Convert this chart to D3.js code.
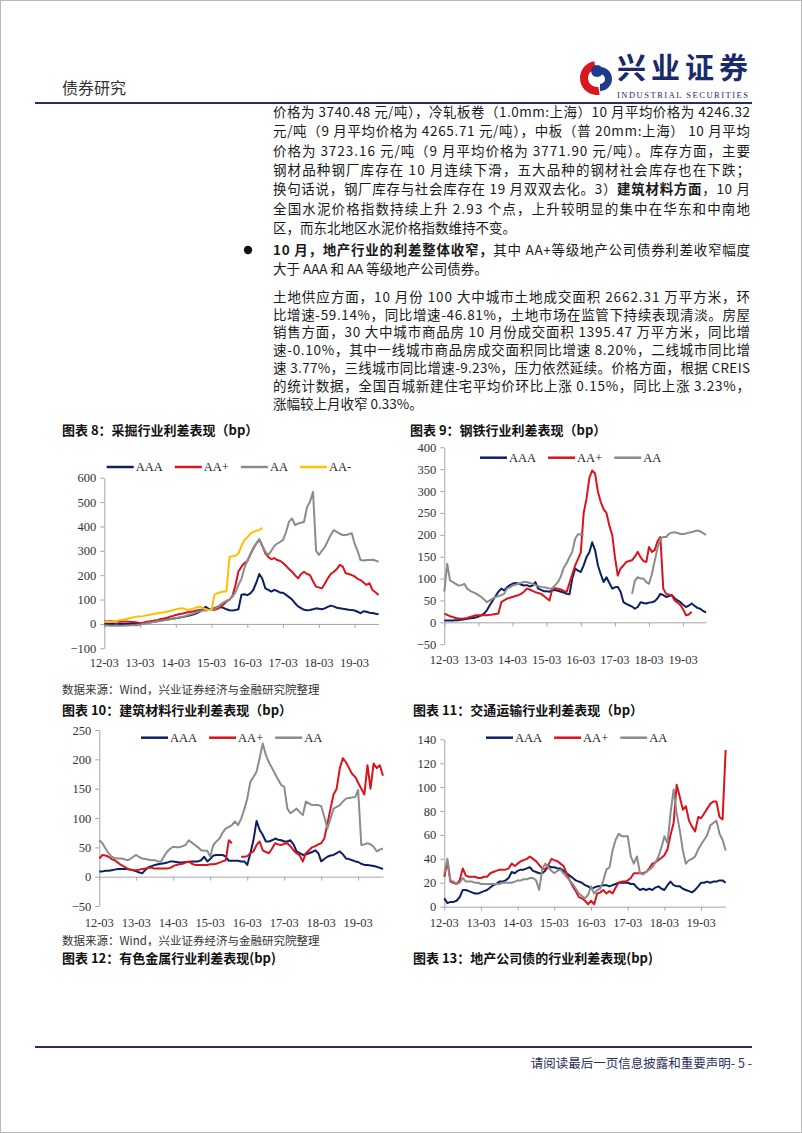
<!DOCTYPE html>
<html>
<head>
<meta charset="utf-8">
<script src="https://cdn.jsdelivr.net/npm/d3@7"></script>
<style>
  body { margin: 0; background: #fff; }
  svg text { font-family: "Noto Sans CJK SC", sans-serif; }
</style>
</head>
<body>
<script>
// monthly points 2012-03 .. 2019-11
var months = d3.timeMonth.range(new Date(2012, 2, 1), new Date(2019, 11, 1));
var xLabels = ["12-03", "13-03", "14-03", "15-03", "16-03", "17-03", "18-03", "19-03"];
var seriesNames = ["AAA", "AA+", "AA", "AA-"];

// 图表 8 采掘
var miningAAA = [0,0,1,0,-1,0,1,0,0,1,0,1, 2,3,5,6,8,10,12,14,16,18,20,22,
  23,25,28,30,33,36,40,44,50,60,70,62, 58,65,70,68,66,60,56,55,57,60,120,122,
  118,125,140,170,205,185,146,140,133,140,135,128, 128,119,110,100,85,72,65,58,56,57,60,64,
  62,60,64,70,75,72,66,64,62,60,58,57, 55,50,44,52,50,46,45,42,40];
var miningAAplus = [10,10,11,10,10,9,10,10,9,8,8,6, 4,5,8,10,12,14,16,20,22,25,30,33,
  37,40,42,45,48,50,52,55,57,58,56,57, 57,58,62,70,80,92,100,115,160,215,235,250,
  258,285,310,330,347,320,290,275,265,270,262,258, 250,238,225,214,200,187,205,214,205,200,175,153,
  150,146,165,187,205,214,225,242,235,208,205,200, 195,185,180,170,160,167,139,130,119];
var miningAA = [-5,-6,-7,-7,-6,-7,-7,-6,-6,-5,-5,-5, -3,0,2,5,7,9,11,13,15,17,19,21,
  23,26,29,32,36,40,44,48,52,54,56,57, 57,62,70,80,88,95,100,112,130,160,185,230,
  260,285,310,330,347,320,296,283,300,320,330,337, 345,378,420,433,406,412,415,419,480,501,542,300,
  283,300,315,340,365,385,378,370,365,365,368,372, 330,300,262,260,262,262,263,260,255];
var miningAAminus = [7,8,9,10,12,15,17,19,22,25,28,30, 30,32,35,37,40,42,44,46,48,50,53,56,
  60,62,64,62,57,60,64,68,71,66,60,57, 57,120,126,130,133,133,276,278,280,290,320,345,
  355,370,378,382,385,395];

// 图表 9 钢铁
var steelAAA = [4,4,4,4,5,5,6,7,8,9,10,11, 13,16,20,28,39,50,60,70,77,73,80,85,
  88,90,89,86,84,85,82,84,92,77,74,71, 71,70,73,74,72,70,68,65,64,100,123,118,
  115,130,149,160,183,165,130,110,92,103,90,77, 80,81,70,46,42,39,36,31,35,46,44,43,
  45,46,48,55,65,62,58,60,62,55,50,46, 40,35,38,43,38,33,31,26,22];
var steelAAplus = [20,17,14,12,10,9,8,9,10,12,14,16, 16,16,16,16,17,18,19,20,46,50,54,56,
  58,60,62,65,70,77,75,72,69,67,65,60, 55,50,77,78,77,75,72,69,90,110,130,145,
  160,250,282,330,347,340,298,275,258,250,221,199, 150,107,123,130,138,140,142,150,161,149,140,138,
  172,161,165,185,195,77,65,63,62,50,45,39, 30,16,18,24];
var steelAA = [70,134,96,92,88,84,85,88,77,72,69,66, 62,58,52,46,50,54,58,60,62,65,77,80,
  84,86,88,90,92,92,90,88,85,83,81,80, 79,77,78,85,92,105,125,135,149,161,191,202,
  200,200, null,null,null,null,null,null,null,null,null,null,null,null,null,null,null,null,
  65,95,103,100,100,92,88,110,140,170,191,195,
  195,202,205,206,204,202,202,203,205,206,208,210,208,204,200];

// 图表 10 建筑材料
var buildAAA = [9,9,10,10,11,12,13,13,13,13,12,11, 9,7,6,12,16,18,20,21,22,23,24,26,
  26,25,24,24,25,25,26,26,26,28,34,26, 30,36,37,37,37,34,27,27,27,27,26,26,
  20,40,62,95,80,71,60,60,62,65,63,62, 60,60,62,55,43,40,37,38,40,42,45,40,
  26,30,34,36,37,40,43,38,31,30,28,26, 25,22,20,20,19,18,17,15,13];
var buildAAplus = [31,37,36,34,30,28,24,20,17,14,12,11, 11,12,13,14,15,15,14,14,14,14,14,15,
  18,20,21,22,24,26,22,20,20,20,20,20, 21,21,22,24,26,28,62,57,null,null,34,34,
  35,40,43,54,60,45,42,40,48,57,55,54, 56,57,52,45,40,36,26,40,45,50,52,55,
  57,65,90,116,140,150,185,202,195,185,175,170, 160,150,140,190,150,193,185,190,172];
var buildAA = [62,57,48,40,34,32,31,31,30,28,30,34, 37,33,31,30,29,28,28,26,26,35,43,48,
  51,50,50,52,54,62,58,54,50,45,44,44, 34,54,60,65,75,82,85,88,94,88,99,115,
  133,162,170,179,202,227,207,195,185,175,165,156, 153,116,108,112,116,110,105,128,125,122,122,122,
  120,102,82,99,116,119,122,128,133,134,135,136, 148,54,55,57,55,51,43,46,48];

// 图表 11 交通运输
var transAAA = [7,3,4,4,5,8,14,14,13,12,11,11, 12,13,14,16,18,19,21,21,22,24,29,28,
  30,31,31,32,33,30,29,28,28,30,34,33, 33,32,32,30,28,26,24,22,21,20,18,17,
  15,16,17,17,18,18,17,18,19,20,20,20, 20,19,19,16,14,15,14,15,14,16,17,15,
  14,18,21,18,17,17,15,14,13,12,14,17, 20,20,21,20,21,21,22,22,20];
var transAAplus = [25,38,21,20,19,22,32,26,25,25,25,24, 24,25,25,28,29,30,31,31,31,32,36,34,
  36,38,39,40,42,40,38,35,32,31,35,40, 39,38,36,34,28,22,17,13,8,7,5,2,
  5,2,11,12,14,11,13,11,16,20,21,21, 22,24,28,28,28,28,29,32,36,37,39,41,
  43,48,60,70,102,92,81,84,72,67,63,75, 74,78,82,86,88,88,75,73,131];
var transAA = [28,40,22,21,19,20,24,21,21,21,20,20, 19,19,19,19,19,19,19,20,20,20,20,21,
  22,22,23,23,24,24,22,14,31,36,33,30, 28,30,31,28,25,22,19,15,11,9,7,10,
  17,11,14,15,22,31,33,47,56,61,59,59, 59,42,36,42,28,27,29,31,33,37,42,50,
  59,53,78,98,78,64,47,36,39,40,42,48, 52,56,60,68,70,72,61,56,47];

var colors = ["#0d1f63", "#d9141c", "#8c8c8c", "#ffc000"];

var width = 802, height = 1133;
var svg = d3.select("body").append("svg")
    .attr("width", width)
    .attr("height", height);

svg.append("rect")
    .attr("x", 0.5).attr("y", 0.5)
    .attr("width", width - 1).attr("height", height - 1)
    .attr("fill", "none").attr("stroke", "#b8b8b8");

// header
svg.append("text")
    .attr("x", 62).attr("y", 88).attr("dy", "0.35em")
    .attr("font-size", 16).attr("fill", "#333")
    .text("债券研究");

var logo = svg.append("g").attr("transform", "translate(597,78)");
var arc = d3.arc();
logo.append("path")
    .attr("d", arc({innerRadius: 9, outerRadius: 17, startAngle: Math.PI * 0.95, endAngle: Math.PI * 1.95}))
    .attr("fill", "#d7191f");
logo.append("path")
    .attr("d", arc({innerRadius: 5, outerRadius: 12, startAngle: -0.2, endAngle: Math.PI * 1.0}))
    .attr("transform", "translate(3,1)")
    .attr("fill", "#1f3a8a");
logo.append("circle").attr("cx", 0).attr("cy", -7).attr("r", 6).attr("fill", "#1f3a8a");

svg.append("text")
    .attr("x", 617).attr("y", 69).attr("dy", "0.35em")
    .attr("font-size", 29).attr("font-weight", 700).attr("fill", "#1b2a6b")
    .attr("textLength", 131).attr("lengthAdjust", "spacing")
    .text("兴业证券");
svg.append("text")
    .attr("x", 617).attr("y", 95).attr("dy", "0.35em")
    .attr("font-size", 8.5).attr("fill", "#1b2a6b")
    .style("font-family", "Liberation Serif, serif")
    .attr("textLength", 131).attr("lengthAdjust", "spacing")
    .text("INDUSTRIAL SECURITIES");

svg.append("line")
    .attr("x1", 35).attr("x2", 752).attr("y1", 103).attr("y2", 103)
    .attr("stroke", "#2b2d5c").attr("stroke-width", 2);

// body text
var textX = 273, textW = 477;

var blockA = [
  [["价格为 3740.48 元/吨），冷轧板卷（1.0mm:上海）10 月平均价格为 4246.32"]],
  [["元/吨（9 月平均价格为 4265.71 元/吨），中板（普 20mm:上海） 10 月平均"]],
  [["价格为 3723.16 元/吨（9 月平均价格为 3771.90 元/吨）。库存方面，主要"]],
  [["钢材品种钢厂库存在 10 月连续下滑，五大品种的钢材社会库存也在下跌；"]],
  [["换句话说，钢厂库存与社会库存在 19 月双双去化。3）"], ["建筑材料方面", 1], ["，10 月"]],
  [["全国水泥价格指数持续上升 2.93 个点，上升较明显的集中在华东和中南地"]],
  [["区，而东北地区水泥价格指数维持不变。"]]
];
var blockB = [
  [["10 月，地产行业的利差整体收窄，", 1], ["其中 AA+等级地产公司债券利差收窄幅度"]],
  [["大于 AAA 和 AA 等级地产公司债券。"]]
];
var blockC = [
  [["土地供应方面，10 月份 100 大中城市土地成交面积 2662.31 万平方米，环"]],
  [["比增速-59.14%，同比增速-46.81%，土地市场在监管下持续表现清淡。房屋"]],
  [["销售方面，30 大中城市商品房 10 月份成交面积 1395.47 万平方米，同比增"]],
  [["速-0.10%，其中一线城市商品房成交面积同比增速 8.20%，二线城市同比增"]],
  [["速 3.77%，三线城市同比增速-9.23%，压力依然延续。价格方面，根据 CREIS"]],
  [["的统计数据，全国百城新建住宅平均价环比上涨 0.15%，同比上涨 3.23%，"]],
  [["涨幅较上月收窄 0.33%。"]]
];

function para(lines, y0, step) {
  lines.forEach(function(segs, i) {
    var t = svg.append("text")
        .attr("x", textX).attr("y", y0 + i * step).attr("dy", "0.35em")
        .attr("font-size", 13.5).attr("fill", "#1a1a1a");
    segs.forEach(function(s) {
      t.append("tspan").attr("font-weight", s[1] ? 700 : 400).text(s[0]);
    });
    if (i < lines.length - 1) t.attr("textLength", textW).attr("lengthAdjust", "spacing");
  });
}
para(blockA, 112, 19.4);
svg.append("circle").attr("cx", 248).attr("cy", 250).attr("r", 4.2).attr("fill", "#111");
para(blockB, 250, 19.4);
para(blockC, 297, 17.8);

// captions
function caption(txt, x, y, bold) {
  svg.append("text")
      .attr("x", x).attr("y", y).attr("dy", "0.35em")
      .attr("font-size", bold ? 13 : 11.5)
      .attr("font-weight", bold ? 700 : 400)
      .attr("fill", bold ? "#111" : "#333")
      .text(txt);
}
var srcText = "数据来源：Wind，兴业证券经济与金融研究院整理";
caption("图表 8：采掘行业利差表现（bp）", 62, 430, true);
caption("图表 9：钢铁行业利差表现（bp）", 410, 430, true);
caption(srcText, 62, 690, false);
caption("图表 10：建筑材料行业利差表现（bp）", 62, 710, true);
caption("图表 11：交通运输行业利差表现（bp）", 413, 710, true);
caption(srcText, 62, 941, false);
caption("图表 12：有色金属行业利差表现(bp)", 62, 958, true);
caption("图表 13：地产公司债的行业利差表现(bp)", 413, 958, true);

// charts
var parseLabel = d3.timeParse("%y-%m");
var yearTicks = xLabels.map(parseLabel);

function drawChart(c) {
  var g = svg.append("g");
  var x = d3.scaleTime()
      .domain([months[0], months[months.length - 1]])
      .range([c.x0, c.x0 + (months.length - 1) / 12 * c.yearPx]);
  var y = d3.scaleLinear().domain(c.yDomain).range(c.yRange);

  var ya = g.append("g")
      .attr("transform", "translate(" + c.x0 + ",0)")
      .call(d3.axisLeft(y).tickValues(c.yTicks).tickSize(4).tickSizeOuter(0).tickPadding(4));
  ya.selectAll(".domain, line").attr("stroke", "#a6a6a6");
  ya.selectAll("text")
      .style("font-family", "Liberation Serif, serif")
      .attr("font-size", 12.5).attr("fill", "#333");

  var xa = g.append("g")
      .attr("transform", "translate(0," + y(0) + ")")
      .call(d3.axisBottom(x).tickValues(yearTicks).tickSize(4).tickSizeOuter(0).tickFormat(""));
  xa.selectAll(".domain, line").attr("stroke", "#a6a6a6");

  g.selectAll(".xlab")
      .data(yearTicks)
    .enter().append("text")
      .attr("x", function(d) { return x(d); })
      .attr("y", c.labelY).attr("dy", "0.35em")
      .attr("text-anchor", "middle")
      .style("font-family", "Liberation Serif, serif")
      .attr("font-size", 12.5).attr("fill", "#333")
      .text(function(d, i) { return xLabels[i]; });

  var line = d3.line()
      .defined(function(d) { return d[1] != null; })
      .x(function(d) { return x(d[0]); })
      .y(function(d) { return y(d[1]); });

  c.series.forEach(function(vals, i) {
    g.append("path")
        .datum(vals.map(function(v, j) { return [months[j], v]; }))
        .attr("d", line)
        .attr("fill", "none")
        .attr("stroke", colors[i])
        .attr("stroke-width", 2)
        .attr("stroke-linejoin", "round");
  });

  // legend
  var lx = c.legendX;
  c.series.forEach(function(vals, i) {
    g.append("line")
        .attr("x1", lx).attr("x2", lx + 27)
        .attr("y1", c.legendY).attr("y2", c.legendY)
        .attr("stroke", colors[i]).attr("stroke-width", 2.5);
    var t = g.append("text")
        .attr("x", lx + 29).attr("y", c.legendY).attr("dy", "0.35em")
        .style("font-family", "Liberation Serif, serif")
        .attr("font-size", 12.5).attr("fill", "#222")
        .text(seriesNames[i]);
    lx += 29 + t.node().getComputedTextLength() + 12;
  });
}

drawChart({
  x0: 104.3, yearPx: 35.77,
  yDomain: [-100, 600], yRange: [648.3, 477.7], yTicks: d3.range(-100, 601, 100),
  labelY: 663, legendX: 106.7, legendY: 467,
  series: [miningAAA, miningAAplus, miningAA, miningAAminus]
});
drawChart({
  x0: 444.3, yearPx: 34.13,
  yDomain: [-50, 400], yRange: [644.2, 447.3], yTicks: d3.range(-50, 401, 50),
  labelY: 660, legendX: 480, legendY: 457.7,
  series: [steelAAA, steelAAplus, steelAA]
});
drawChart({
  x0: 99.3, yearPx: 37,
  yDomain: [-50, 250], yRange: [906, 730], yTicks: d3.range(-50, 251, 50),
  labelY: 922.3, legendX: 141, legendY: 737.7,
  series: [buildAAA, buildAAplus, buildAA]
});
drawChart({
  x0: 444.3, yearPx: 36.7,
  yDomain: [0, 140], yRange: [906.7, 739.3], yTicks: d3.range(0, 141, 20),
  labelY: 922.3, legendX: 486, legendY: 737.7,
  series: [transAAA, transAAplus, transAA]
});

// footer
svg.append("line")
    .attr("x1", 35).attr("x2", 752).attr("y1", 1047).attr("y2", 1047)
    .attr("stroke", "#2b2d5c").attr("stroke-width", 2);
svg.append("text")
    .attr("x", 752).attr("y", 1064).attr("dy", "0.35em")
    .attr("text-anchor", "end")
    .attr("font-size", 12.5).attr("fill", "#2b2d5c")
    .text("请阅读最后一页信息披露和重要声明- 5 -");
</script>
</body>
</html>
